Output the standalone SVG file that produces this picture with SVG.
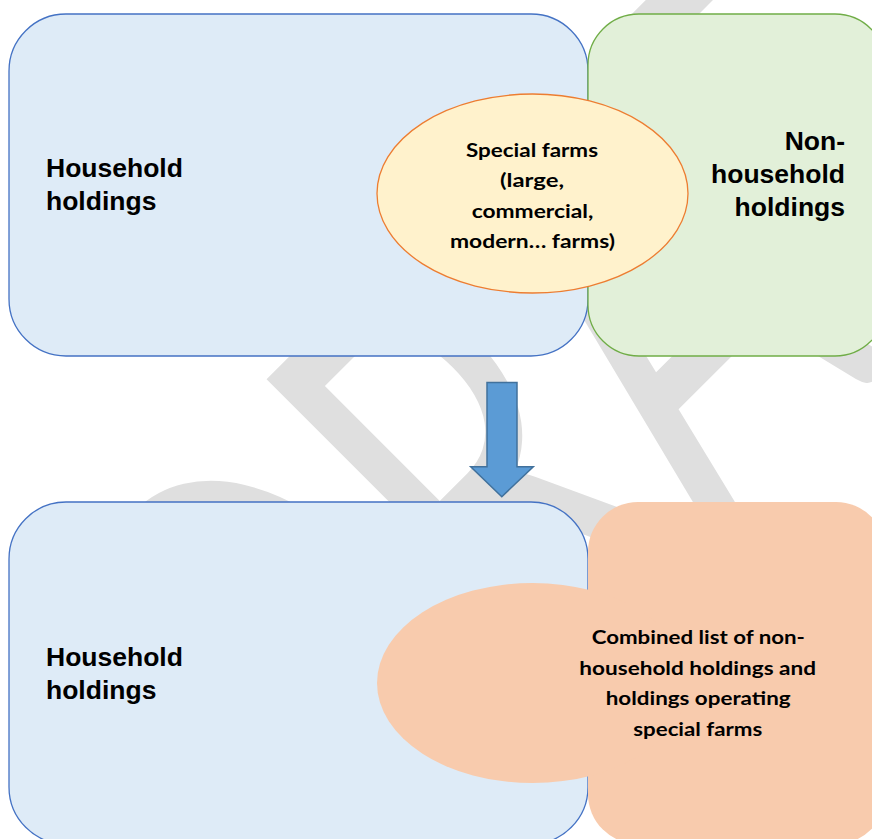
<svg xmlns="http://www.w3.org/2000/svg" width="872" height="839" viewBox="0 0 872 839">
  <style>
    .hh { font-family: "Liberation Sans", Arial, sans-serif; font-weight: bold; font-size: 26.5px; fill: #000; }
    .cb { font-family: Lato, "Liberation Sans", sans-serif; font-weight: bold; font-size: 19.5px; fill: #000; text-anchor: middle; }
    .blue { fill: #DEEBF7; stroke: #4472C4; stroke-width: 1.3; }
    .wm { font-family: Lato, "Liberation Sans", sans-serif; font-weight: normal; font-size: 420px; fill: #DFDFDF; }
  </style>
  <rect width="872" height="839" fill="#FFFFFF"/>
  <g id="watermark" transform="rotate(-45) scale(0.9,1.43)">
    <text class="wm" y="620.3"><tspan x="-447">D</tspan><tspan x="-127">R</tspan><tspan x="137">A</tspan><tspan x="412">F</tspan><tspan x="644">T</tspan></text>
  </g>
  <g id="household-top">
    <rect class="blue" x="9" y="14" width="579" height="342" rx="57" ry="57"/>
    <text class="hh" x="46" y="177">Household</text>
    <text class="hh" x="46" y="210">holdings</text>
  </g>
  <g id="non-household">
    <rect x="588" y="14" width="298" height="342" rx="51" ry="51" fill="#E2F0D9" stroke="#70AD47" stroke-width="1.3"/>
    <text class="hh" x="845" y="150" text-anchor="end">Non-</text>
    <text class="hh" x="845" y="183" text-anchor="end">household</text>
    <text class="hh" x="845" y="216" text-anchor="end">holdings</text>
  </g>
  <g id="special-farms">
    <ellipse cx="532.5" cy="193.5" rx="155.5" ry="99.5" fill="#FFF2CC" stroke="#ED7D31" stroke-width="1.3"/>
    <text class="cb" x="532" y="156.7" textLength="132" lengthAdjust="spacingAndGlyphs">Special farms</text>
    <text class="cb" x="532" y="187.2" textLength="64" lengthAdjust="spacingAndGlyphs">(large,</text>
    <text class="cb" x="532.5" y="217.7" textLength="121.7" lengthAdjust="spacingAndGlyphs">commercial,</text>
    <text class="cb" x="532.5" y="248.2" textLength="165" lengthAdjust="spacingAndGlyphs">modern… farms)</text>
  </g>
  <g id="household-bottom">
    <rect class="blue" x="9" y="502" width="579" height="342" rx="57" ry="57"/>
    <text class="hh" x="46" y="666">Household</text>
    <text class="hh" x="46" y="699">holdings</text>
  </g>
  <g id="combined-list">
    <rect x="588" y="502" width="298" height="342" rx="50" ry="50" fill="#F8CBAD"/>
    <ellipse cx="532.5" cy="683" rx="155.5" ry="100" fill="#F8CBAD"/>
    <text class="cb" x="698.3" y="644" textLength="213.3" lengthAdjust="spacingAndGlyphs">Combined list of non-</text>
    <text class="cb" x="697.7" y="674.5" textLength="236.7" lengthAdjust="spacingAndGlyphs">household holdings and</text>
    <text class="cb" x="698.2" y="705" textLength="185" lengthAdjust="spacingAndGlyphs">holdings operating</text>
    <text class="cb" x="697.8" y="735.5" textLength="129" lengthAdjust="spacingAndGlyphs">special farms</text>
  </g>
  <g id="connectors">
    <path d="M487,382.5 H517 V466.7 H533.3 L501.8,496.7 L470.7,466.7 H487 Z" fill="#5B9BD5" stroke="#41719C" stroke-width="1.5" stroke-linejoin="miter"/>
  </g>
</svg>
